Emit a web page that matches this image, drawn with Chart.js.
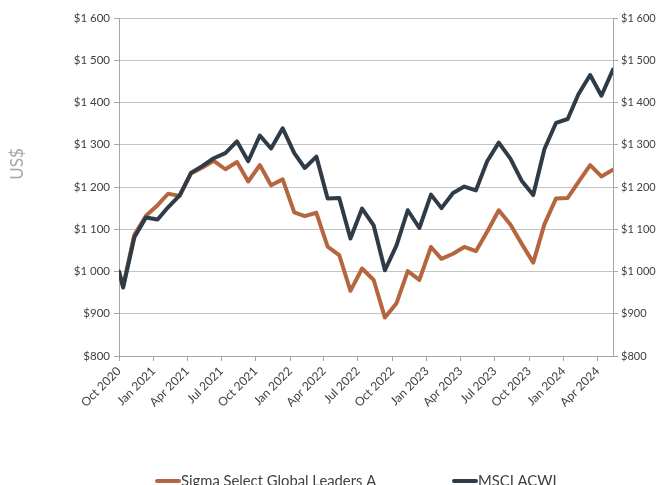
<!DOCTYPE html>
<html>
<head>
<meta charset="utf-8">
<script src="https://cdn.jsdelivr.net/npm/chart.js@4/dist/chart.umd.min.js"></script>
<style>
html,body{margin:0;padding:0;background:#fff;}
#wrap{position:relative;width:657px;height:485px;overflow:hidden;}
canvas{display:block;}
</style>
</head>
<body>
<div id="wrap"><canvas id="c" width="657" height="485"></canvas></div>
<script>
// ---- data ----
const dates = ['2020-10-20','2020-10-31','2020-11-30','2020-12-31',
  '2021-01-31','2021-02-28','2021-03-31','2021-04-30','2021-05-31','2021-06-30',
  '2021-07-31','2021-08-31','2021-09-30','2021-10-31','2021-11-30','2021-12-31',
  '2022-01-31','2022-02-28','2022-03-31','2022-04-30','2022-05-31','2022-06-30',
  '2022-07-31','2022-08-31','2022-09-30','2022-10-31','2022-11-30','2022-12-31',
  '2023-01-31','2023-02-28','2023-03-31','2023-04-30','2023-05-31','2023-06-30',
  '2023-07-31','2023-08-31','2023-09-30','2023-10-31','2023-11-30','2023-12-31',
  '2024-01-31','2024-02-29','2024-03-31','2024-04-30','2024-05-31'];
const sigmaValues = [1000,965,1087,1132,
  1157,1184,1179,1232,1246,1262,
  1242,1259,1213,1252,1204,1218,
  1140,1131,1139,1059,1039,954,
  1007,980,891,925,1001,980,
  1058,1030,1042,1058,1048,1094,
  1145,1111,1066,1021,1112,1173,
  1174,1212,1252,1225,1241];
const msciValues = [1000,962,1081,1128,
  1123,1152,1180,1233,1250,1268,
  1280,1308,1261,1322,1291,1339,
  1280,1245,1272,1173,1174,1078,
  1149,1109,1003,1062,1145,1103,
  1182,1150,1186,1201,1192,1261,
  1305,1267,1215,1181,1290,1352,
  1361,1420,1465,1416,1478];
const tickDates = ['2020-10-20','2021-01-20','2021-04-20','2021-07-20','2021-10-20',
  '2022-01-20','2022-04-20','2022-07-20','2022-10-20','2023-01-20','2023-04-20',
  '2023-07-20','2023-10-20','2024-01-20','2024-04-20'];
const tickLabels = ['Oct 2020','Jan 2021','Apr 2021','Jul 2021','Oct 2021',
  'Jan 2022','Apr 2022','Jul 2022','Oct 2022','Jan 2023','Apr 2023',
  'Jul 2023','Oct 2023','Jan 2024','Apr 2024'];
const seriesNames = ['Sigma Select Global Leaders A','MSCI ACWI'];
const yAxisTitle = 'US$';

// ---- helpers ----
const DAY = 86400000;
const t0 = Date.parse(dates[0]);
const dayOf = s => Math.round((Date.parse(s) - t0) / DAY);
const xs = dates.map(dayOf);
const tickXs = tickDates.map(dayOf);
const fmt = v => '$' + (v >= 1000 ? Math.floor(v / 1000) + ' ' + String(v % 1000).padStart(3, '0') : v);

const ORANGE = '#B5663F';
const DARK = '#2F3B46';
const GRID = '#C4C4C4';
const AXIS = '#A6A6A6';
const TEXT = '#404040';
const FONT = 'Lato';

const legendPlugin = {
  id: 'customLegend',
  afterDraw(chart) {
    const ctx = chart.ctx;
    ctx.save();
    ctx.font = '17px ' + FONT;
    ctx.fillStyle = '#A6A6A6';
    ctx.textAlign = 'center';
    ctx.textBaseline = 'middle';
    ctx.translate(18, 164);
    ctx.rotate(-Math.PI / 2);
    ctx.fillText(yAxisTitle, 0, 0);
    ctx.restore();

    ctx.save();
    const items = [
      {name: seriesNames[0], color: ORANGE, x: 155},
      {name: seriesNames[1], color: DARK, x: 452}
    ];
    ctx.font = '14.8px ' + FONT;
    ctx.textAlign = 'left';
    ctx.textBaseline = 'alphabetic';
    items.forEach(it => {
      ctx.strokeStyle = it.color;
      ctx.lineWidth = 4;
      ctx.lineCap = 'round';
      ctx.beginPath();
      ctx.moveTo(it.x + 2, 481);
      ctx.lineTo(it.x + 24, 481);
      ctx.stroke();
      ctx.fillStyle = TEXT;
      ctx.fillText(it.name, it.x + 26, 486);
    });
    ctx.restore();
  }
};

new Chart(document.getElementById('c'), {
  type: 'line',
  data: {
    datasets: [
      {label: seriesNames[0], data: sigmaValues.map((v, i) => ({x: xs[i], y: v})),
       borderColor: ORANGE, borderWidth: 4, pointRadius: 0, tension: 0, order: 1,
       borderJoinStyle: 'round', borderCapStyle: 'round', yAxisID: 'y'},
      {label: seriesNames[1], data: msciValues.map((v, i) => ({x: xs[i], y: v})),
       borderColor: DARK, borderWidth: 4, pointRadius: 0, tension: 0, order: 0,
       borderJoinStyle: 'round', borderCapStyle: 'round', yAxisID: 'y'}
    ]
  },
  options: {
    responsive: false,
    animation: false,
    devicePixelRatio: 1,
    layout: {padding: {left: 0, right: 0, top: 18, bottom: 0}},
    plugins: {legend: {display: false}, tooltip: {enabled: false}, title: {display: false}},
    scales: {
      x: {
        type: 'linear',
        min: xs[0], max: xs[xs.length - 1],
        afterBuildTicks: s => { s.ticks = tickXs.map(v => ({value: v})); },
        afterFit: s => { s.height = 129; },
        ticks: {
          autoSkip: false, minRotation: 45, maxRotation: 45, padding: 3,
          color: TEXT, font: {family: FONT, size: 12},
          callback: (v) => { const k = tickXs.indexOf(v); return k >= 0 ? tickLabels[k] : ''; }
        },
        grid: {drawOnChartArea: false, drawTicks: true, tickLength: 5, tickColor: AXIS, color: AXIS},
        border: {display: true, color: AXIS, width: 1}
      },
      y: {
        position: 'left',
        min: 800, max: 1600,
        afterFit: s => { s.width = 119; },
        ticks: {stepSize: 100, padding: 4, color: TEXT, font: {family: FONT, size: 11.5}, callback: v => fmt(v)},
        grid: {color: GRID, lineWidth: 1, drawTicks: true, tickLength: 5, tickColor: AXIS},
        border: {display: true, color: AXIS, width: 1}
      },
      y2: {
        position: 'right',
        min: 800, max: 1600,
        afterFit: s => { s.width = 44; },
        ticks: {stepSize: 100, padding: 3, color: TEXT, font: {family: FONT, size: 11}, callback: v => fmt(v)},
        grid: {drawOnChartArea: false, drawTicks: true, tickLength: 5, tickColor: AXIS},
        border: {display: true, color: AXIS, width: 1}
      }
    }
  },
  plugins: [legendPlugin]
});
</script>
</body>
</html>
